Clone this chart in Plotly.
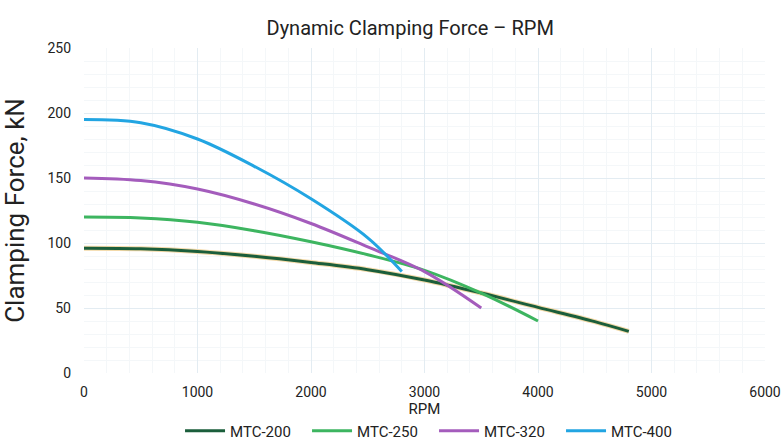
import plotly.graph_objects as go

rpm_200 = [0, 500, 1000, 1500, 2000, 2500, 3000, 3500, 4000, 4500, 4800]
force_200 = [96, 95.6, 93.5, 89.8, 85, 79.5, 71.5, 61.5, 50.5, 39.5, 32]

rpm_250 = [0, 500, 1000, 1500, 2000, 2500, 3000, 3500, 4000]
force_250 = [120, 119.3, 116, 109.5, 101, 91, 79, 61.5, 40]

rpm_320 = [0, 500, 1000, 1500, 2000, 2500, 3000, 3500]
force_320 = [150, 148, 141.5, 130, 115, 97, 78, 50]

rpm_400 = [0, 500, 1000, 1500, 2000, 2500, 2800]
force_400 = [195, 192.5, 180, 159, 134, 104, 78]

series = [
    ("MTC-200", rpm_200, force_200, "#1b5e3b"),
    ("MTC-250", rpm_250, force_250, "#3db560"),
    ("MTC-320", rpm_320, force_320, "#a45cbc"),
    ("MTC-400", rpm_400, force_400, "#22a5e2"),
]

fig = go.Figure()
for name, x, y, col in series:
    if name == "MTC-200":
        fig.add_trace(go.Scatter(x=x, y=y, mode="lines", line=dict(color="#f3d9a8", width=5, shape="spline", smoothing=1),
                                 showlegend=False, hoverinfo="skip", legendgroup=name))
    fig.add_trace(go.Scatter(x=x, y=y, mode="lines", name=name, legendgroup=name,
                             line=dict(color=col, width=3, shape="spline", smoothing=1)))

font = "Roboto, Arial, sans-serif"
fig.update_layout(
    width=783, height=444,
    paper_bgcolor="white", plot_bgcolor="white",
    font=dict(family=font, color="#222", size=14),
    title=dict(text="Dynamic Clamping Force – RPM", x=0.479, xref="paper", xanchor="center",
               y=0.937, yref="container", yanchor="middle",
               font=dict(size=20, family=font, color="#222")),
    margin=dict(l=84, r=18, t=48, b=71, autoexpand=False),
    legend=dict(orientation="h", x=0.514, xref="paper", xanchor="center", y=-0.128, yanchor="top",
                font=dict(size=15), itemwidth=40, tracegroupgap=0,
                entrywidth=72, entrywidthmode="pixels"),
    showlegend=True,
)
fig.update_xaxes(range=[0, 6000], dtick=1000, showgrid=True, gridcolor="#e3ecf2", gridwidth=1,
                 minor=dict(dtick=200, showgrid=True, gridcolor="#f4f7f9"),
                 zeroline=False, showline=False, ticks="", automargin=False, ticklabelstandoff=9,
                 title=dict(text="RPM", standoff=0, font=dict(size=15)), tickfont=dict(size=14))
fig.update_yaxes(range=[0, 250], dtick=50, showgrid=True, gridcolor="#e3ecf2", gridwidth=1,
                 minor=dict(dtick=10, showgrid=True, gridcolor="#f4f7f9"),
                 zeroline=False, showline=False, ticks="", automargin=False, ticklabelstandoff=12,
                 title=dict(text="Clamping Force, kN", standoff=20, font=dict(size=26)), tickfont=dict(size=14))

fig.write_html("out.html", config={"displayModeBar": False},
               post_script="document.body.style.margin='0';document.body.style.overflow='hidden';")
